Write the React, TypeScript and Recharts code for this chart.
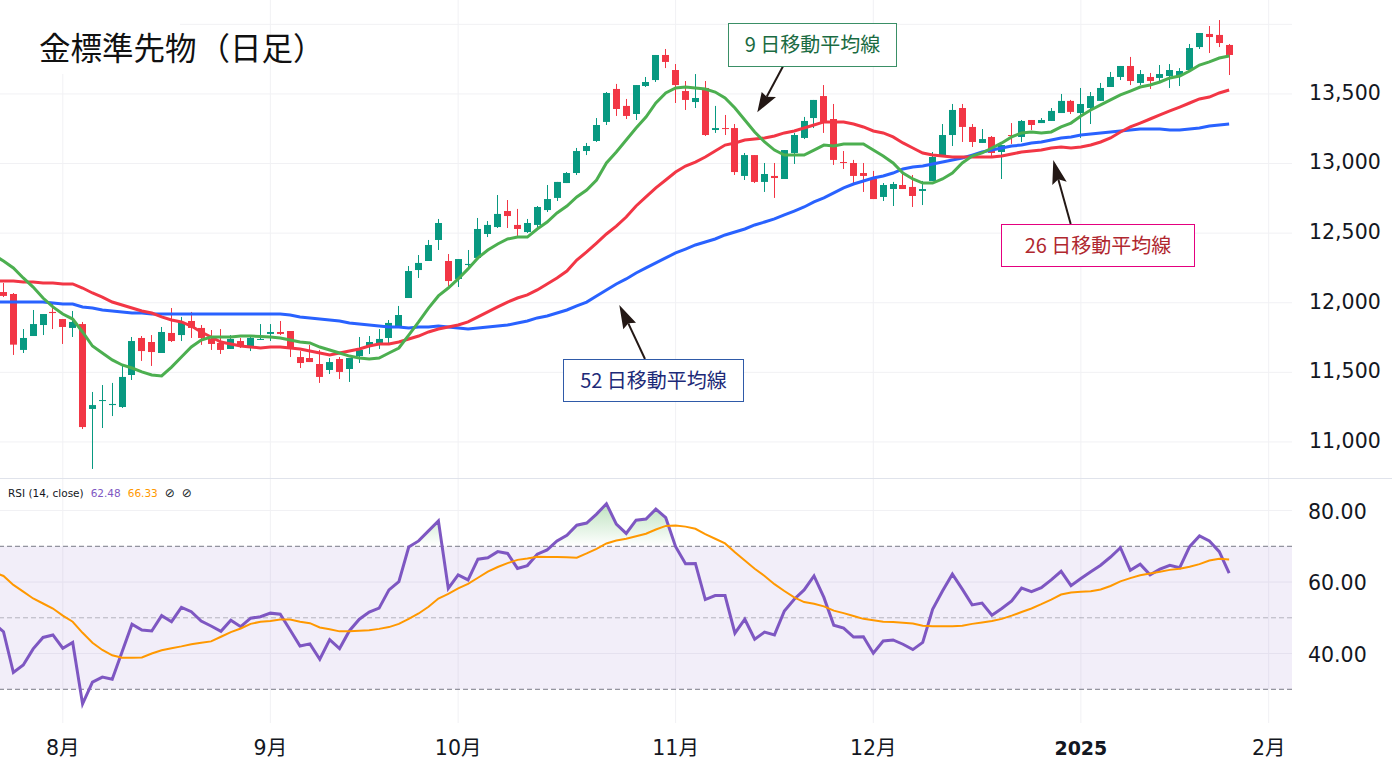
import { Area, Bar, CartesianGrid, ComposedChart, Line, ReferenceArea, ReferenceLine, XAxis, YAxis } from "recharts"

const opens = [
  12077, 12063, 11661, 11761, 11840, 11934, 11883, 11819, 11847, 11237,
  11294, 11265, 11251, 11481, 11747, 11718, 11639, 11783, 11768, 11869,
  11819, 11740, 11711, 11668, 11725, 11689, 11733, 11776, 11790, 11797,
  11610, 11603, 11560, 11517, 11596, 11524, 11617, 11689, 11711, 11747,
  11833, 12034, 12235, 12300, 12451, 12300, 12171, 12271, 12322, 12494,
  12544, 12659, 12559, 12508, 12559, 12666, 12753, 12860, 12932, 13090,
  13162, 13299, 13536, 13414, 13356, 13557, 13600, 13780, 13672, 13521,
  13442, 13543, 13241, 13255, 13255, 12911, 13061, 12868, 12911, 12889,
  13076, 13184, 13327, 13485, 13320, 13011, 13004, 12932, 12889, 12760,
  12817, 12846, 12832, 12803, 12875, 13054, 13205, 13399, 13263, 13148,
  13191, 13083, 13205, 13191, 13313, 13291, 13306, 13363, 13450, 13363,
  13399, 13450, 13550, 13622, 13701, 13579, 13622, 13615, 13629, 13629,
  13672, 13837, 13931, 13924, 13852,
]
const closes = [
  12049, 11699, 11747, 11847, 11919, 11926, 11826, 11862, 11107, 11265,
  11301, 11273, 11467, 11725, 11653, 11646, 11790, 11725, 11862, 11819,
  11747, 11704, 11661, 11740, 11689, 11747, 11740, 11790, 11776, 11675,
  11567, 11574, 11467, 11574, 11503, 11603, 11661, 11718, 11740, 11855,
  11912, 12228, 12286, 12415, 12573, 12156, 12314, 12279, 12530, 12559,
  12638, 12623, 12530, 12573, 12688, 12745, 12868, 12932, 13090, 13126,
  13277, 13507, 13392, 13342, 13564, 13586, 13780, 13730, 13564, 13457,
  13471, 13205, 13255, 13248, 12939, 13061, 12868, 12925, 12896, 13097,
  13205, 13306, 13457, 13299, 13026, 13004, 12911, 12911, 12745, 12846,
  12853, 12817, 12767, 12817, 13047, 13205, 13385, 13263, 13155, 13176,
  13076, 13133, 13198, 13306, 13277, 13313, 13378, 13450, 13371, 13428,
  13485, 13543, 13622, 13701, 13593, 13643, 13593, 13643, 13672, 13665,
  13830, 13938, 13909, 13866, 13780,
]
const highs = [
  12142, 12070, 11811, 11948, 11919, 11991, 11883, 11941, 11862, 11359,
  11409, 11424, 11546, 11754, 11761, 11768, 11826, 11962, 11898, 11934,
  11840, 11804, 11811, 11768, 11747, 11768, 11847, 11847, 11869, 11797,
  11653, 11697, 11661, 11603, 11610, 11603, 11754, 11761, 11811, 11876,
  11977, 12264, 12343, 12451, 12602, 12350, 12314, 12379, 12609, 12587,
  12774, 12738, 12674, 12602, 12695, 12846, 12868, 12939, 13112, 13148,
  13327, 13514, 13572, 13464, 13564, 13622, 13780, 13823, 13715, 13593,
  13643, 13593, 13414, 13349, 13284, 13076, 13061, 13004, 13004, 13097,
  13220, 13335, 13457, 13564, 13428, 13090, 13026, 13004, 12947, 12860,
  12868, 12925, 12918, 12875, 13083, 13284, 13428, 13428, 13284, 13248,
  13198, 13133, 13291, 13313, 13313, 13327, 13399, 13500, 13457, 13543,
  13514, 13579, 13658, 13701, 13766, 13672, 13651, 13708, 13715, 13686,
  13859, 13938, 13988, 14031, 13859,
]
const lows = [
  12041, 11625, 11639, 11761, 11768, 11811, 11704, 11754, 11093, 10806,
  11100, 11186, 11244, 11445, 11582, 11546, 11639, 11718, 11725, 11747,
  11697, 11661, 11632, 11668, 11675, 11653, 11733, 11725, 11768, 11610,
  11531, 11574, 11424, 11488, 11452, 11431, 11567, 11632, 11668, 11711,
  11833, 12034, 12178, 12300, 12379, 12120, 12113, 12250, 12322, 12472,
  12537, 12537, 12480, 12501, 12537, 12652, 12731, 12860, 12918, 13061,
  13155, 13277, 13342, 13320, 13313, 13550, 13586, 13686, 13435, 13385,
  13399, 13198, 13220, 13205, 12918, 12882, 12860, 12796, 12753, 12889,
  12997, 13176, 13255, 13220, 12990, 12961, 12860, 12796, 12745, 12731,
  12695, 12817, 12688, 12702, 12875, 13054, 13126, 13155, 13119, 13148,
  13047, 12889, 13141, 13155, 13241, 13291, 13306, 13363, 13356, 13184,
  13284, 13450, 13550, 13600, 13564, 13564, 13536, 13593, 13543, 13557,
  13658, 13823, 13794, 13837, 13636,
]

// first entry of these belongs to the bar just left of the visible window
const ma9 = [
  12343, 12300, 12250, 12178, 12113, 12034, 11970, 11919, 11883, 11790, 11689,
  11639, 11589, 11553, 11531, 11503, 11481, 11474, 11538, 11610, 11682,
  11732, 11754, 11754, 11754, 11761, 11761, 11758, 11754, 11747, 11732,
  11718, 11711, 11682, 11661, 11639, 11617, 11603, 11596, 11603, 11639,
  11675, 11768, 11862, 11962, 12049, 12106, 12171, 12243, 12322, 12379,
  12422, 12458, 12472, 12472, 12530, 12580, 12645, 12695, 12760, 12810,
  12882, 13004, 13083, 13169, 13255, 13334, 13435, 13507, 13543, 13550,
  13543, 13536, 13514, 13471, 13399, 13313, 13227, 13155, 13097, 13061,
  13061, 13061, 13097, 13133, 13126, 13141, 13141, 13141, 13097, 13054,
  13004, 12932, 12889, 12860, 12860, 12889, 12932, 13004, 13054, 13076,
  13112, 13148, 13191, 13220, 13227, 13220, 13227, 13263, 13291, 13342,
  13385, 13421, 13457, 13493, 13521, 13550, 13564, 13586, 13615, 13629,
  13665, 13708, 13730, 13758, 13773,
]
const ma26 = [
  12156, 12156, 12156, 12149, 12149, 12142, 12142, 12135, 12135, 12106, 12070,
  12041, 12005, 11984, 11962, 11941, 11926, 11898, 11876, 11862, 11833,
  11790, 11754, 11718, 11704, 11689, 11682, 11675, 11682, 11682, 11675,
  11668, 11653, 11639, 11625, 11639, 11653, 11668, 11689, 11704, 11704,
  11718, 11740, 11761, 11790, 11811, 11826, 11840, 11862, 11898, 11934,
  11970, 12005, 12034, 12056, 12092, 12135, 12178, 12228, 12307, 12365,
  12429, 12494, 12551, 12616, 12695, 12760, 12825, 12882, 12939, 12982,
  13011, 13047, 13090, 13133, 13148, 13169, 13176, 13184, 13198, 13220,
  13234, 13255, 13277, 13299, 13299, 13299, 13284, 13263, 13234, 13220,
  13191, 13148, 13112, 13076, 13061, 13054, 13047, 13047, 13047, 13047,
  13047, 13054, 13069, 13083, 13090, 13097, 13112, 13119, 13112, 13119,
  13133, 13155, 13184, 13227, 13263, 13291, 13320, 13349, 13378, 13406,
  13435, 13464, 13478, 13507, 13528,
]
const ma52 = [
  12005, 12005, 12005, 12005, 12005, 12005, 11998, 11991, 11991, 11970, 11962,
  11948, 11941, 11934, 11926, 11926, 11919, 11919, 11919, 11919, 11919,
  11919, 11919, 11919, 11919, 11919, 11919, 11919, 11919, 11919, 11912,
  11898, 11891, 11883, 11876, 11869, 11855, 11847, 11840, 11833, 11826,
  11826, 11819, 11826, 11826, 11833, 11826, 11819, 11811, 11819, 11826,
  11833, 11840, 11855, 11869, 11891, 11905, 11926, 11948, 11977, 12005,
  12049, 12092, 12135, 12171, 12214, 12250, 12286, 12322, 12358, 12386,
  12415, 12436, 12458, 12487, 12508, 12530, 12559, 12580, 12602, 12631,
  12659, 12688, 12724, 12753, 12789, 12825, 12853, 12875, 12896, 12911,
  12932, 12961, 12975, 12982, 12997, 13011, 13026, 13040, 13061, 13083,
  13097, 13112, 13126, 13133, 13148, 13155, 13169, 13184, 13191, 13205,
  13212, 13220, 13227, 13234, 13241, 13248, 13248, 13248, 13241, 13241,
  13248, 13255, 13270, 13277, 13284,
]
const rsi = [
  48.5, 46.1, 34.7, 36.8, 41.3, 44.5, 45.2, 41.5, 43.1, 25.9, 32.0,
  33.4, 32.8, 40.5, 48.2, 46.6, 46.3, 50.6, 48.9, 52.9, 51.7,
  49.1, 47.7, 46.2, 49.3, 47.5, 49.9, 50.3, 51.3, 51.0, 46.6,
  42.1, 42.7, 38.4, 43.9, 41.4, 46.4, 49.6, 51.6, 52.7, 57.8,
  60.1, 69.8, 71.5, 74.3, 77.1, 58.2, 62.0, 60.6, 66.4, 66.8,
  68.5, 68.0, 63.8, 64.6, 67.8, 69.0, 71.5, 73.1, 75.9, 76.5,
  79.0, 81.9, 76.2, 73.6, 77.3, 77.6, 80.4, 78.0, 69.9, 65.1,
  65.2, 55.1, 56.2, 56.2, 45.7, 49.6, 44.0, 46.0, 45.2, 51.9,
  55.2, 57.8, 61.7, 55.7, 47.9, 47.1, 44.6, 44.7, 40.1, 43.5,
  43.8, 42.6, 41.1, 43.1, 52.4, 57.5, 62.2, 58.0, 53.6, 54.1,
  50.7, 52.6, 54.7, 58.3, 57.3, 58.4, 60.6, 63.0, 59.0, 61.0,
  62.9, 64.7, 67.0, 69.6, 63.3, 65.0, 62.0, 63.6, 64.7, 64.0,
  69.9, 72.9, 71.5, 68.5, 62.48,
]
const rsiMa = [
  62.8, 61.7, 59.2, 57.3, 55.4, 54.0, 52.6, 50.6, 48.9, 45.8, 43.0,
  41.0, 39.5, 38.8, 38.8, 38.9, 40.0, 40.9, 41.5, 42.0, 42.6,
  43.0, 43.4, 44.7, 46.0, 47.0, 48.3, 48.9, 49.1, 49.5, 49.5,
  48.9, 48.5, 47.3, 46.8, 46.2, 46.2, 46.4, 46.5, 46.9, 47.4,
  48.3, 49.7, 51.2, 53.1, 55.4, 56.7, 58.2, 59.5, 61.2, 62.9,
  64.2, 65.3, 66.2, 66.6, 67.1, 67.0, 67.0, 66.9, 66.8, 68.0,
  69.3, 70.8, 71.6, 72.1, 72.8, 73.5, 74.7, 75.7, 75.8, 75.5,
  74.9, 73.4, 72.1, 70.8, 68.3, 66.0, 63.7, 61.7, 59.4, 57.5,
  55.7, 54.4, 53.9, 53.2, 52.0, 51.3, 50.5, 49.7, 49.3, 48.9,
  48.8, 48.6, 48.4, 47.8, 47.6, 47.6, 47.6, 47.8, 48.3, 48.7,
  49.1, 49.7, 50.6, 51.6, 52.6, 53.8, 55.1, 56.5, 57.1, 57.3,
  57.4, 57.9, 58.9, 60.2, 61.1, 61.9, 62.4, 62.9, 63.4, 63.7,
  64.3, 65.0, 66.0, 66.5, 66.33,
]

const priceTicks = [11000, 11500, 12000, 12500, 13000, 13500, 14000]
const rsiTicks = [40, 60, 80]
const monthIndexes = [6, 27, 46, 68, 88, 109, 128]
const monthLabels = ["8月", "9月", "10月", "11月", "12月", "2025", "2月"]

const UP = "#089981"
const DOWN = "#f23645"
const GRID = "#f1f1f4"
const TEXT = "#131722"
const AXIS_FONT = "'DejaVu Sans', 'Noto Sans CJK JP', sans-serif"
const CJK_FONT = "'Noto Sans CJK JP', sans-serif"

const rows = ma9.map((_, k) => {
  const c = k - 1
  return {
    i: c,
    open: opens[c],
    close: closes[c],
    range: c >= 0 ? [lows[c], highs[c]] : undefined,
    high: highs[c],
    low: lows[c],
    ma9: ma9[k],
    ma26: ma26[k],
    ma52: ma52[k],
    rsi: rsi[k],
    rsiMa: rsiMa[k],
  }
})

function Candle(props: any) {
  const { x, y, width, height, payload } = props
  if (payload.open == null || !height) return null
  const top = Math.min(y, y + height)
  const perPrice = Math.abs(height) / (payload.high - payload.low)
  const bodyTop = top + (payload.high - Math.max(payload.open, payload.close)) * perPrice
  const bodyHeight = Math.max(Math.abs(payload.open - payload.close) * perPrice, 1)
  const color = payload.close >= payload.open ? UP : DOWN
  // bar offset gets truncated by recharts, put that back and snap so wicks stay crisp
  const left = Math.round(x + 0.44)
  const mid = left + Math.floor(width / 2) + 0.5
  return (
    <g>
      <line x1={mid} x2={mid} y1={top} y2={top + Math.abs(height)} stroke={color} strokeWidth={1} />
      <rect x={left} y={bodyTop} width={width} height={bodyHeight} fill={color} />
    </g>
  )
}

function MonthTick(props: any) {
  const { x, y, payload } = props
  const at = monthIndexes.indexOf(payload.value)
  const label = monthLabels[at]
  const isYear = label === "2025"
  return (
    <text x={x} y={y} textAnchor="middle" dominantBaseline="central" fontFamily={AXIS_FONT} fontSize={isYear ? 19 : 20.5} fontWeight={isYear ? 700 : 400} fill={TEXT}>
      {label}
    </text>
  )
}

function NoteBox({ left, top, width, height, border, color, text }: { left: number; top: number; width: number; height: number; border: string; color: string; text: string }) {
  return (
    <div
      style={{
        position: "absolute",
        left,
        top,
        width,
        height,
        boxSizing: "border-box",
        border: `1.2px solid ${border}`,
        background: "#fff",
        color,
        fontFamily: CJK_FONT,
        fontSize: 20,
        lineHeight: `${height - 4}px`,
        textAlign: "center",
        whiteSpace: "nowrap",
      }}
    >
      {text}
    </div>
  )
}

function Pointer({ from, tip, barbA, notch, barbB }: { from: number[]; tip: number[]; barbA: number[]; notch: number[]; barbB: number[] }) {
  return (
    <g>
      <line x1={from[0]} y1={from[1]} x2={notch[0]} y2={notch[1]} stroke="#231815" strokeWidth={2} />
      <polygon points={[tip, barbA, notch, barbB].map((p) => p.join(",")).join(" ")} fill="#231815" />
    </g>
  )
}

export default function App() {
  return (
    <div style={{ position: "absolute", left: 0, top: 0, width: 1392, height: 768, background: "#fff", overflow: "hidden" }}>
      <div style={{ position: "absolute", left: 0, top: 0 }}>
        <ComposedChart width={1392} height={478} data={rows} margin={{ top: 0, right: 0, bottom: 0, left: 0 }}>
          <CartesianGrid stroke={GRID} syncWithTicks />
          <XAxis dataKey="i" type="number" hide domain={[-0.354, 130.36]} ticks={[-0.3, ...monthIndexes]} allowDataOverflow />
          <YAxis
            orientation="right"
            width={100}
            domain={[10741, 14175]}
            ticks={priceTicks}
            interval={0}
            axisLine={false}
            tickLine={false}
            tickMargin={11}
            tick={{ fontFamily: AXIS_FONT, fontSize: 20.5, fill: TEXT, dy: -1.5 }}
            tickFormatter={(v: number) => (v === 14000 ? "" : v.toLocaleString("en-US"))}
            allowDataOverflow
          />
          <Bar dataKey="range" barSize={7} shape={<Candle />} isAnimationActive={false} />
          <Line dataKey="ma52" stroke="#2962ff" strokeWidth={3} dot={false} activeDot={false} isAnimationActive={false} />
          <Line dataKey="ma26" stroke={DOWN} strokeWidth={3} dot={false} activeDot={false} isAnimationActive={false} />
          <Line dataKey="ma9" stroke="#4caf50" strokeWidth={3} dot={false} activeDot={false} isAnimationActive={false} />
        </ComposedChart>
      </div>

      <div style={{ position: "absolute", left: 0, top: 478 }}>
        <ComposedChart width={1392} height={290} data={rows} margin={{ top: 0, right: 0, bottom: 0, left: 0 }}>
          <defs>
            <linearGradient id="overbought" gradientUnits="userSpaceOnUse" x1="0" x2="0" y1="24" y2="68.3">
              <stop offset="0%" stopColor="#4caf50" stopOpacity={0.38} />
              <stop offset="100%" stopColor="#4caf50" stopOpacity={0} />
            </linearGradient>
          </defs>
          <CartesianGrid stroke={GRID} syncWithTicks />
          <XAxis
            dataKey="i"
            type="number"
            domain={[-0.354, 130.36]}
            ticks={monthIndexes}
            interval={0}
            height={45}
            axisLine={false}
            tickLine={false}
            tickMargin={19}
            tick={<MonthTick />}
            allowDataOverflow
          />
          <YAxis
            orientation="right"
            width={100}
            domain={[20.57, 89.1]}
            ticks={rsiTicks}
            interval={0}
            axisLine={false}
            tickLine={false}
            tickMargin={10}
            tick={{ fontFamily: AXIS_FONT, fontSize: 20.5, fill: TEXT, dy: 1 }}
            tickFormatter={(v: number) => v.toFixed(2)}
            allowDataOverflow
          />
          <ReferenceArea y1={30} y2={70} fill="#7e57c2" fillOpacity={0.1} stroke="none" />
          <ReferenceLine y={70} stroke="#787b86" strokeDasharray="5 3" />
          <ReferenceLine y={50} stroke="#787b86" strokeOpacity={0.5} strokeDasharray="5 3" />
          <ReferenceLine y={30} stroke="#787b86" strokeDasharray="5 3" />
          <Area dataKey="rsi" baseValue={70} fill="url(#overbought)" fillOpacity={1} stroke="none" dot={false} activeDot={false} isAnimationActive={false} />
          <Line dataKey="rsi" stroke="#7e57c2" strokeWidth={3} dot={false} activeDot={false} isAnimationActive={false} />
          <Line dataKey="rsiMa" stroke="#ff9800" strokeWidth={2} dot={false} activeDot={false} isAnimationActive={false} />
        </ComposedChart>
      </div>

      <div style={{ position: "absolute", left: 0, top: 477.5, width: 1392, height: 1, background: "#e0e3eb" }} />

      <div style={{ position: "absolute", left: 0, top: 0, width: 180, height: 74, background: "#fff" }} />
      <div style={{ position: "absolute", left: 39, top: 23, fontFamily: CJK_FONT, fontSize: 31.5, lineHeight: "46px", color: "#111", whiteSpace: "nowrap" }}>
        金標準先物<span style={{ marginLeft: 2 }}>（日足）</span>
      </div>

      <div style={{ position: "absolute", left: 8, top: 486, fontFamily: AXIS_FONT, fontSize: 10.5, lineHeight: "14px", color: TEXT, whiteSpace: "nowrap" }}>
        RSI (14, close)
        <span style={{ color: "#7e57c2", marginLeft: 7 }}>62.48</span>
        <span style={{ color: "#ff9800", marginLeft: 7 }}>66.33</span>
        <span style={{ marginLeft: 7, fontSize: 12 }}>⊘</span>
        <span style={{ marginLeft: 7, fontSize: 12 }}>⊘</span>
      </div>

      <svg width={1392} height={768} style={{ position: "absolute", left: 0, top: 0, pointerEvents: "none" }}>
        <Pointer from={[783.3, 65.7]} tip={[757.3, 112.3]} barbA={[761.7, 92]} notch={[766.7, 96.7]} barbB={[776, 97]} />
        <Pointer from={[1070.7, 224]} tip={[1053.3, 160]} barbA={[1052.3, 185]} notch={[1058.3, 179.3]} barbB={[1066.7, 181.7]} />
        <Pointer from={[645, 359]} tip={[619.3, 305]} barbA={[623.3, 329.3]} notch={[628.3, 323.3]} barbB={[636, 322.7]} />
      </svg>

      <NoteBox left={728} top={23} width={169} height={44} border="#3a8f66" color="#1a6b42" text="9 日移動平均線" />
      <NoteBox left={1001} top={224} width={194} height={43} border="#e4007f" color="#b0282f" text="26 日移動平均線" />
      <NoteBox left={563} top={359} width={181} height={43} border="#2f5aa8" color="#1d2a78" text="52 日移動平均線" />
    </div>
  )
}
